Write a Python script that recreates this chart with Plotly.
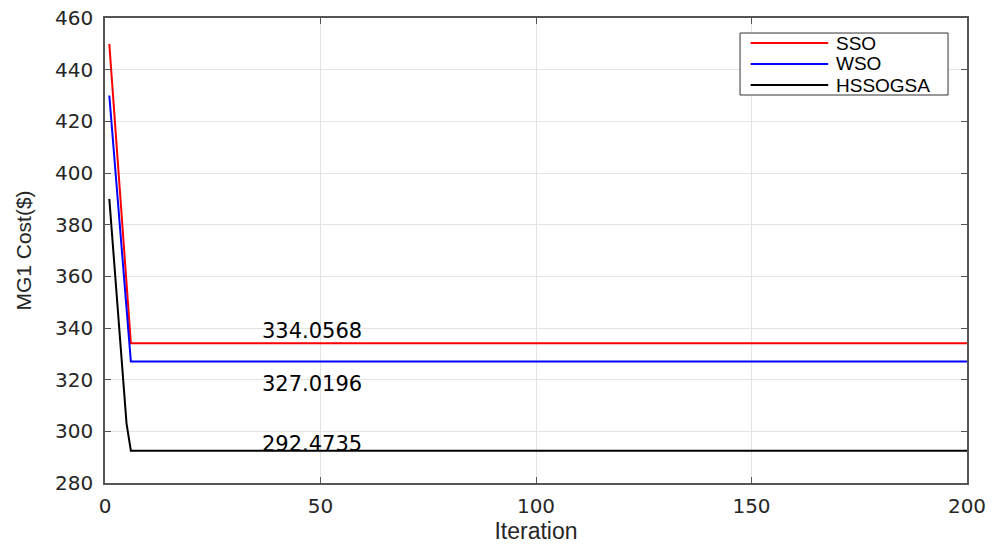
import plotly.graph_objects as go

# Convergence histories (iteration -> MG1 cost), flat after convergence
iters = [1, 2, 3, 4, 5, 6, 200]
sso = [450.0, 426.5, 403.0, 380.0, 357.0, 334.0568, 334.0568]
wso = [430.0, 409.0, 388.5, 368.0, 347.5, 327.0196, 327.0196]
hssogsa = [390.0, 368.0, 345.0, 323.0, 303.0, 292.4735, 292.4735]

names = ["SSO", "WSO", "HSSOGSA"]
colors = ["#ff0000", "#0000ff", "#000000"]
values = [sso, wso, hssogsa]

# Final-value labels and where they sit
label_x = [48, 48, 48]
label_y = [339.0, 318.5, 295.0]
label_txt = ["334.0568", "327.0196", "292.4735"]

WIDE = "DejaVu Sans, Verdana, sans-serif"
SANS = "Liberation Sans, Arial, sans-serif"

fig = go.Figure()
for name, ys, color in zip(names, values, colors):
    fig.add_trace(go.Scatter(x=iters, y=ys, mode="lines", name=name,
                             line=dict(color=color, width=2), showlegend=False))

for x, y, t in zip(label_x, label_y, label_txt):
    fig.add_annotation(x=x, y=y, text=t, showarrow=False,
                       font=dict(size=21, color="#000000", family=WIDE))

# Boxed legend in the upper-right corner of the axes
box = dict(x0=0.7367, x1=0.978, y0=0.8344, y1=0.9677)
row_y = [0.9462, 0.9011, 0.8559]
fig.add_shape(type="rect", xref="paper", yref="paper", **box,
              line=dict(color="#333333", width=1), fillcolor="white", layer="above")
for name, color, ry in zip(names, colors, row_y):
    fig.add_shape(type="line", xref="paper", yref="paper", x0=0.749, x1=0.839, y0=ry, y1=ry,
                  line=dict(color=color, width=2), layer="above")
    fig.add_annotation(xref="paper", yref="paper", x=0.846, y=ry, text=name, showarrow=False,
                       xanchor="left", yanchor="middle",
                       font=dict(size=19, color="#000000", family=SANS))

axis_common = dict(showgrid=True, gridcolor="#e3e3e3", gridwidth=1,
                   showline=True, linecolor="#555555", linewidth=1.5, mirror="ticks",
                   ticks="inside", ticklen=6, tickcolor="#555555", zeroline=False,
                   automargin=False,
                   tickfont=dict(size=20, color="#262626", family=WIDE))

fig.update_xaxes(range=[0, 200], dtick=50, ticklabelstandoff=4,
                 title=dict(text="Iteration", standoff=6,
                            font=dict(size=23, color="#262626", family=SANS)),
                 **axis_common)
fig.update_yaxes(range=[280, 460], dtick=20, ticklabelstandoff=6,
                 title=dict(text="MG1 Cost($)", standoff=18,
                            font=dict(size=21, color="#262626", family=SANS)),
                 **axis_common)

fig.update_layout(
    width=995, height=545,
    margin=dict(l=105, r=28, t=18, b=62),
    paper_bgcolor="white", plot_bgcolor="white",
    showlegend=False,
)

fig.write_html("out.html")
